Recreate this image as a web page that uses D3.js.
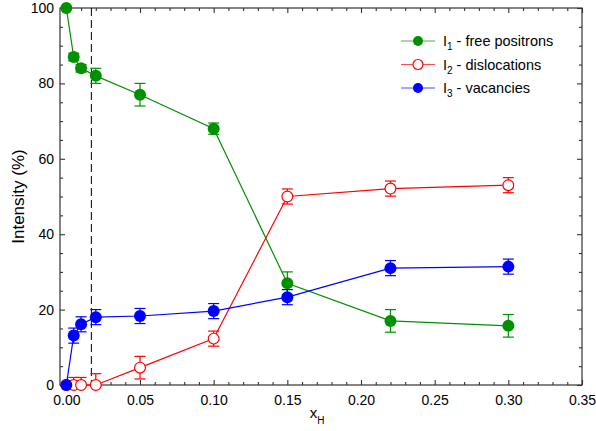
<!DOCTYPE html>
<html>
<head>
<meta charset="utf-8">
<script src="https://cdn.jsdelivr.net/npm/d3@7"></script>
<style>
  body { margin: 0; background: #fff; }
  text { font-family: "Liberation Sans", Arial, sans-serif; }
</style>
</head>
<body>
<svg id="chart" width="596" height="431"></svg>
<script>
// MARK: Data.

const xH = [0, 0.005, 0.01, 0.02, 0.05, 0.10, 0.15, 0.22, 0.30]

const i1Values = [100, 87, 84, 82, 77, 68, 27, 17, 15.7]
const i1Errors = [0, 1, 1, 2, 3, 1.5, 3, 3, 3]

const i2Values = [0, 0, 0, 0, 4.6, 12.3, 50, 52.1, 53]
const i2Errors = [0, 2, 2, 3, 3, 2, 2, 2, 2]

const i3Values = [0, 13.1, 16.1, 18, 18.3, 19.6, 23.3, 31, 31.4]
const i3Errors = [0, 2, 2, 2, 2, 2, 2, 2, 2]

const xTicks = [0, 0.05, 0.10, 0.15, 0.20, 0.25, 0.30, 0.35]
const yTicks = [0, 20, 40, 60, 80, 100]
const dashedX = 0.017

const series = [
  { sub: '1', label: ' - free positrons', values: i1Values, errors: i1Errors, color: '#009100', filled: true },
  { sub: '2', label: ' - dislocations',   values: i2Values, errors: i2Errors, color: '#ff0000', filled: false },
  { sub: '3', label: ' - vacancies',      values: i3Values, errors: i3Errors, color: '#0000ff', filled: true },
]

// MARK: Layout.

const margin = { top: 8, right: 14, bottom: 46, left: 60 }
const width  = 596 - margin.left - margin.right
const height = 431 - margin.top - margin.bottom
const R      = 6
const CAP    = 5.5
const AXIS_COLOR = '#333'

const svg = d3.select('#chart')
const g   = svg.append('g').attr('transform', `translate(${margin.left},${margin.top})`)

const x = d3.scaleLinear().domain([-0.0043, 0.35]).range([0, width])
const y = d3.scaleLinear().domain([0, 100]).range([height, 0])

// Minor ticks every 0.01 on x and every 5 on y.
const xMinor = d3.range(0, 0.3501, 0.01).filter((v) => xTicks.every((t) => Math.abs(t - v) > 1e-6))
const yMinor = d3.range(0, 100.01, 5).filter((v) => v % 20 !== 0)

const axes = g.append('g').attr('class', 'axes')

// Inward ticks on all four sides of the frame.
function drawTicks(axisFn, scale, values, size, transform, fmt) {
  const a = axisFn(scale)
    .tickValues(values)
    .tickSizeInner(-size)
    .tickSizeOuter(0)
    .tickFormat(fmt || '')
  const sel = axes.append('g').attr('transform', transform).call(a)
  sel.select('.domain').remove()
  sel.selectAll('.tick line').attr('stroke', AXIS_COLOR).attr('stroke-width', 1.1)
  sel.selectAll('.tick text')
    .attr('fill', '#000')
    .style('font-size', '14px')
  return sel
}

// bottom
drawTicks(d3.axisBottom, x, xTicks, 5, `translate(0,${height})`, d3.format('.2f'))
  .selectAll('.tick text').attr('y', 10).attr('dy', '0.71em')
drawTicks(d3.axisBottom, x, xMinor, 3, `translate(0,${height})`)
// top
drawTicks(d3.axisTop, x, xTicks, 5, 'translate(0,0)')
drawTicks(d3.axisTop, x, xMinor, 3, 'translate(0,0)')
// left
drawTicks(d3.axisLeft, y, yTicks, 5, 'translate(0,0)', d3.format('d'))
  .selectAll('.tick text').attr('x', -6)
drawTicks(d3.axisLeft, y, yMinor, 3, 'translate(0,0)')
// right
drawTicks(d3.axisRight, y, yTicks, 5, `translate(${width},0)`)
drawTicks(d3.axisRight, y, yMinor, 3, `translate(${width},0)`)

axes.append('rect')
  .attr('width', width)
  .attr('height', height)
  .attr('fill', 'none')
  .attr('stroke', AXIS_COLOR)
  .attr('stroke-width', 1.2)

// Dashed marker line.
g.append('line')
  .attr('x1', x(dashedX)).attr('x2', x(dashedX))
  .attr('y1', 0).attr('y2', height)
  .attr('stroke', '#000')
  .attr('stroke-dasharray', '8,4')

// Series: lines, error bars, markers.
const line = d3.line().x((d) => x(d.x)).y((d) => y(d.v))

for (const s of series) {
  const pts = xH.map((xv, i) => ({ x: xv, v: s.values[i], e: s.errors[i] }))
  const sg  = g.append('g')

  sg.append('path')
    .datum(pts)
    .attr('d', line)
    .attr('fill', 'none')
    .attr('stroke', s.color)
    .attr('stroke-width', 1.2)

  const eb = sg.selectAll('g.err')
    .data(pts.filter((d) => d.e > 0))
    .enter().append('g')
    .attr('class', 'err')
    .attr('stroke', s.color)
    .attr('stroke-width', 1.2)
  eb.append('line')
    .attr('x1', (d) => x(d.x)).attr('x2', (d) => x(d.x))
    .attr('y1', (d) => y(Math.max(0, d.v - d.e))).attr('y2', (d) => y(d.v + d.e))
  eb.append('line')
    .attr('x1', (d) => x(d.x) - CAP).attr('x2', (d) => x(d.x) + CAP)
    .attr('y1', (d) => y(d.v + d.e)).attr('y2', (d) => y(d.v + d.e))
  eb.filter((d) => d.v - d.e >= 0).append('line')
    .attr('x1', (d) => x(d.x) - CAP).attr('x2', (d) => x(d.x) + CAP)
    .attr('y1', (d) => y(d.v - d.e)).attr('y2', (d) => y(d.v - d.e))

  sg.selectAll('circle')
    .data(pts)
    .enter().append('circle')
    .attr('cx', (d) => x(d.x))
    .attr('cy', (d) => y(d.v))
    .attr('r', s.filled ? R : R - 0.6)
    .attr('fill', s.filled ? s.color : '#fff')
    .attr('stroke', s.color)
    .attr('stroke-width', s.filled ? 0 : 1.2)
}

// Axis titles.
svg.append('text')
  .attr('x', margin.left + width / 2 - 4)
  .attr('y', 418)
  .attr('text-anchor', 'middle')
  .style('font-size', '15px')
  .text('x')
  .append('tspan')
  .attr('dy', 6)
  .style('font-size', '10px')
  .text('H')

svg.append('text')
  .attr('transform', `translate(24,${margin.top + height / 2}) rotate(-90)`)
  .attr('text-anchor', 'middle')
  .style('font-size', '17px')
  .text('Intensity (%)')

// Legend.
const legend = svg.append('g').attr('transform', 'translate(401,41)')
series.forEach((s, i) => {
  const row = legend.append('g').attr('transform', `translate(0,${i * 23.5})`)
  row.append('line')
    .attr('x1', 0).attr('x2', 34)
    .attr('stroke', s.color)
    .attr('stroke-width', 1.2)
    .attr('stroke-opacity', 0.7)
  row.append('circle')
    .attr('cx', 17).attr('r', 5)
    .attr('fill', s.filled ? s.color : '#fff')
    .attr('stroke', s.color)
    .attr('stroke-width', s.filled ? 0 : 1.2)
  const t = row.append('text')
    .attr('x', 42).attr('y', 5)
    .style('font-size', '14.5px')
    .text('I')
  t.append('tspan').attr('dy', 4).style('font-size', '10px').text(s.sub)
  t.append('tspan').attr('dy', -4).text(s.label)
})
</script>
</body>
</html>
